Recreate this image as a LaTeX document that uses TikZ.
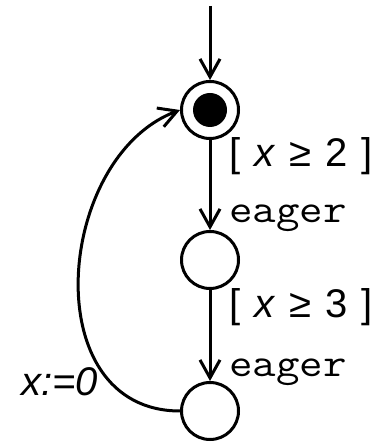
\documentclass[tikz,border=0pt]{standalone}
\usepackage{fontspec}
\setmainfont{Liberation Sans}
\newfontfamily\actfont[FakeStretch=1.14]{Latin Modern Mono}
\usetikzlibrary{arrows.meta,positioning}

\begin{document}
\begin{tikzpicture}[x=0.5pt, y=0.5pt, line width=1.5pt,
  >={Straight Barb[length=9pt,width=10pt]},
  state/.style={draw, circle, minimum size=28.5pt, inner sep=0pt},
  mark dot/.style={fill, circle, minimum size=17pt, inner sep=0pt},
  guard/.style={anchor=base west, inner sep=0pt, font=\fontsize{20}{24}\selectfont},
  act/.style={guard, font=\fontsize{20}{24}\selectfont\actfont}]
  \useasboundingbox (0,0) rectangle (374,442);

  % locations
  \node[state] (top) at (210,332) {};
  \node[mark dot] (topdot) at (top) {};
  \node[state] (mid) at (210,182) {};
  \node[state] (bot) at (210,31) {};

  % initial arrow
  \coordinate (init) at (210,436);
  \draw[->] (init) -- (top);

  % eager transitions
  \draw[->] (top) -- (mid);
  \draw[->] (mid) -- (bot);
  \node[guard] (g1) at (228,275)
    {[\hspace{.35em}\textit{x}\hspace{.35em}≥\hspace{.35em}2\hspace{.35em}]};
  \node[act] (e1) at (228,219) {eager};
  \node[guard] (g2) at (228,124)
    {[\hspace{.35em}\textit{x}\hspace{.35em}≥\hspace{.35em}3\hspace{.35em}]};
  \node[act] (e2) at (228,65) {eager};

  % back edge with reset
  \draw[->] (bot.west) .. controls (35,31) and (55,285) .. (top.west);
  \node[guard] (reset) at (20,46) {\textit{x:=0}};
\end{tikzpicture}
\end{document}
